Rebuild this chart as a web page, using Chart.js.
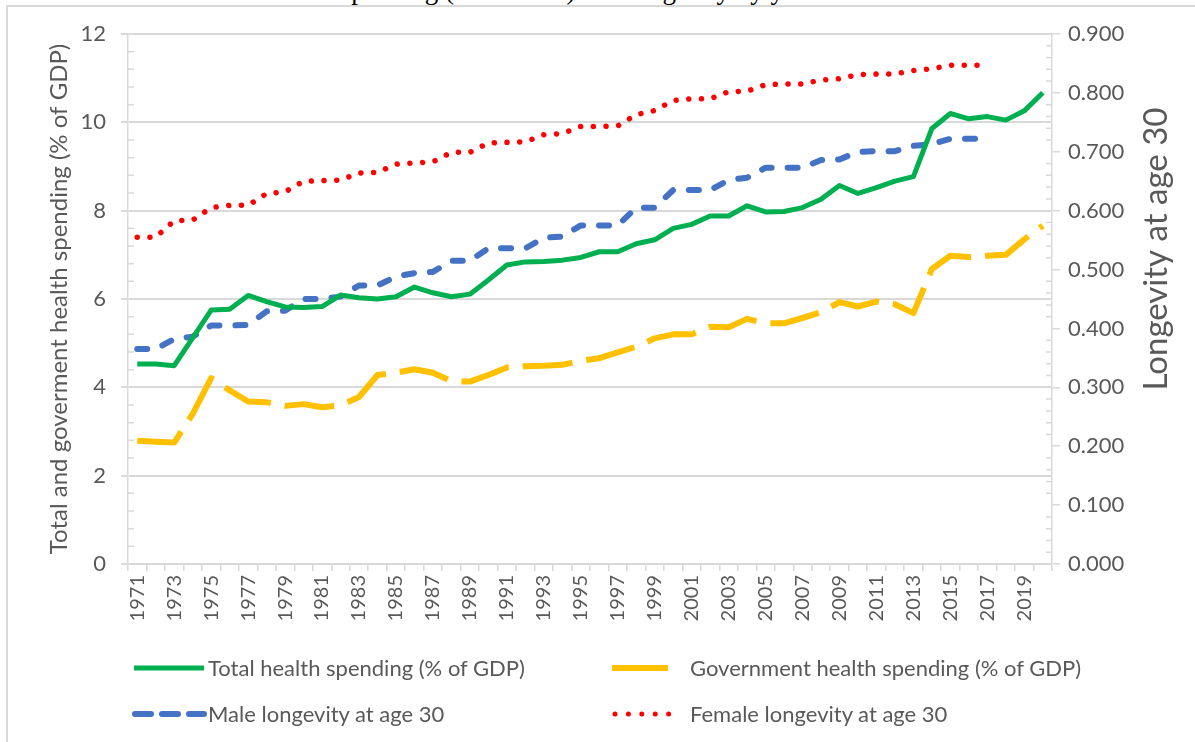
<!DOCTYPE html>
<html>
<head>
<meta charset="utf-8">
<script src="https://cdn.jsdelivr.net/npm/chart.js@4.4.1/dist/chart.umd.min.js"></script>
<style>
body{margin:0;background:#fff;overflow:hidden;font-family:Lato,sans-serif}
#wrap{position:relative;width:1195px;height:742px;overflow:hidden}
#frame{position:absolute;left:6px;top:5px;width:1220px;height:780px;border:2px solid #d9d9d9;box-sizing:border-box}
#title{position:absolute;left:262px;top:-25px;font:27px "Liberation Serif",serif;line-height:30px;color:#000;white-space:nowrap}
canvas{position:absolute;left:0;top:0}
.leg{position:absolute;font-size:22px;line-height:26px;color:#595959;display:flex;align-items:center;white-space:nowrap}
.leg svg{display:block}
</style>
</head>
<body>
<div id="wrap">
<div id="title">Health spending (% of GDP) and longevity by year</div>
<div id="frame"></div>
<canvas id="chart" width="1195" height="742"></canvas>

<div class="leg" style="left:130px;top:655px"><svg width="78" height="10"><line x1="4" y1="5" x2="74" y2="5" stroke="#00b050" stroke-width="5"/></svg><span>Total health spending (% of GDP)</span></div>
<div class="leg" style="left:610px;top:655px"><svg width="80" height="10"><line x1="2" y1="5" x2="58" y2="5" stroke="#ffc000" stroke-width="6"/></svg><span>Government health spending (% of GDP)</span></div>
<div class="leg" style="left:130px;top:701px"><svg width="78" height="10"><line x1="5" y1="5" x2="74" y2="5" stroke="#4472c4" stroke-width="6" stroke-linecap="round" stroke-dasharray="16 11"/></svg><span>Male longevity at age 30</span></div>
<div class="leg" style="left:610px;top:701px"><svg width="80" height="10"><line x1="5" y1="5" x2="60" y2="5" stroke="#ff0000" stroke-width="5" stroke-linecap="round" stroke-dasharray="0.01 13.4"/></svg><span>Female longevity at age 30</span></div>
</div>

<script>
const years=["1971","1972","1973","1974","1975","1976","1977","1978","1979","1980",
"1981","1982","1983","1984","1985","1986","1987","1988","1989","1990",
"1991","1992","1993","1994","1995","1996","1997","1998","1999","2000",
"2001","2002","2003","2004","2005","2006","2007","2008","2009","2010",
"2011","2012","2013","2014","2015","2016","2017","2018","2019","2020"]

// % of GDP, left axis
const totalSpend=[4.53,4.53,4.49,5.12,5.75,5.77,6.08,5.94,5.82,5.81,
5.83,6.09,6.03,6.00,6.05,6.27,6.14,6.05,6.11,6.43,
6.77,6.84,6.85,6.88,6.94,7.07,7.07,7.25,7.34,7.60,
7.69,7.88,7.88,8.11,7.97,7.98,8.07,8.26,8.57,8.39,
8.52,8.67,8.77,9.86,10.20,10.08,10.13,10.05,10.26,10.67]

const govSpend=[2.79,2.77,2.75,3.40,4.21,3.93,3.68,3.66,3.58,3.62,
3.55,3.59,3.78,4.28,4.33,4.41,4.33,4.14,4.13,4.28,
4.45,4.48,4.49,4.51,4.60,4.66,4.79,4.92,5.11,5.20,
5.20,5.37,5.36,5.55,5.45,5.45,5.57,5.70,5.93,5.83,
5.94,5.88,5.68,6.68,6.98,6.95,6.98,7.00,7.35,7.66]

// longevity, right axis
const maleLong=[0.365,0.365,0.382,0.386,0.405,0.405,0.406,0.429,0.430,0.450,
0.450,0.454,0.473,0.473,0.488,0.494,0.496,0.515,0.515,0.536,
0.536,0.536,0.554,0.556,0.575,0.575,0.575,0.605,0.605,0.635,
0.635,0.635,0.652,0.656,0.673,0.673,0.673,0.686,0.687,0.700,
0.701,0.701,0.710,0.713,0.722,0.722,0.722,null,null,null]

const femaleLong=[0.555,0.555,0.583,0.584,0.605,0.609,0.609,0.629,0.632,0.650,
0.651,0.652,0.664,0.665,0.679,0.681,0.683,0.699,0.699,0.715,
0.716,0.717,0.729,0.731,0.743,0.743,0.744,0.763,0.770,0.787,
0.790,0.790,0.802,0.803,0.814,0.815,0.815,0.822,0.824,0.831,
0.832,0.832,0.838,0.841,0.847,0.847,0.847,null,null,null]

const gray="#595959"
const gridGray="#d9d9d9"

/* minor tick marks + right axis title */
const extras={
id:"extras",
afterDraw(c){
const g=c.ctx, a=c.chartArea, y=c.scales.y, y1=c.scales.y1
g.save()
g.strokeStyle=gridGray
g.lineWidth=1.5
g.beginPath()
for(let k=1;k<30;k++){
if(k%5===0) continue
const p=y.getPixelForValue(k*0.4)
g.moveTo(a.left,p); g.lineTo(a.left+6,p)
}
for(let k=1;k<45;k++){
if(k%5===0) continue
const p=y1.getPixelForValue(k*0.02)
g.moveTo(a.right-6,p); g.lineTo(a.right,p)
}
g.stroke()
g.translate(1156,249)
g.rotate(-Math.PI/2)
g.fillStyle=gray
g.font="33px Lato"
g.textAlign="center"
g.textBaseline="middle"
g.fillText("Longevity at age 30",0,0)
g.restore()
}
}

new Chart(document.getElementById("chart"),{
type:"line",
data:{
labels:years,
datasets:[
{label:"Total health spending (% of GDP)",data:totalSpend,yAxisID:"y",borderColor:"#00b050",borderWidth:5,borderJoinStyle:"round",pointRadius:0,tension:0},
{label:"Government health spending (% of GDP)",data:govSpend,yAxisID:"y",borderColor:"#ffc000",borderWidth:6,borderDash:[50,14],borderJoinStyle:"round",pointRadius:0,tension:0},
{label:"Male longevity at age 30",data:maleLong,yAxisID:"y1",borderColor:"#4472c4",borderWidth:6,borderDash:[10,16],borderCapStyle:"round",borderJoinStyle:"round",pointRadius:0,tension:0},
{label:"Female longevity at age 30",data:femaleLong,yAxisID:"y1",borderColor:"#ff0000",borderWidth:5.5,borderDash:[0.01,12.7],borderCapStyle:"round",pointRadius:0,tension:0}
]
},
options:{
responsive:false,
animation:false,
layout:{padding:{top:34,bottom:108,left:0,right:0}},
plugins:{legend:{display:false},tooltip:{enabled:false}},
scales:{
x:{
offset:true,
grid:{drawOnChartArea:false,drawTicks:true,tickLength:7,offset:true,color:gridGray,lineWidth:1.5},
border:{display:false},
ticks:{autoSkip:false,maxRotation:90,minRotation:90,padding:4,color:gray,font:{family:"Lato",size:20},
callback:(v,i)=>i%2===0?years[i]:""},
afterFit:s=>{s.height=70}
},
y:{
position:"left",min:0,max:12,
ticks:{stepSize:2,padding:15,color:gray,font:{family:"Lato",size:22}},
grid:{color:gridGray,lineWidth:2,tickLength:7},
border:{color:gridGray,width:1.5},
title:{display:true,text:"Total and goverment health spending (% of GDP)",color:gray,font:{family:"Lato",size:24},padding:{top:45}},
afterFit:s=>{s.width=128}
},
y1:{
position:"right",min:0,max:0.9,
ticks:{stepSize:0.1,padding:8,color:gray,font:{family:"Lato",size:22},callback:v=>v.toFixed(3)},
grid:{drawOnChartArea:false,color:gridGray,tickLength:8,lineWidth:1.5},
border:{color:gridGray,width:1.5},
afterFit:s=>{s.width=143}
}
}
},
plugins:[extras]
})
</script>
</body>
</html>
